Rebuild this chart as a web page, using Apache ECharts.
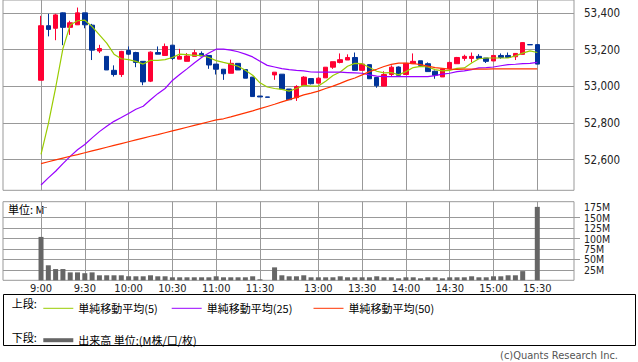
<!DOCTYPE html>
<html><head><meta charset="utf-8">
<script src="https://cdn.jsdelivr.net/npm/echarts@6/dist/echarts.min.js"></script>
<style>html,body{margin:0;padding:0;background:#fff}#c{width:638px;height:362px}</style>
</head><body><div id="c"></div>
<script>
const times = ['9:00','9:05','9:10','9:15','9:20','9:25','9:30','9:35','9:40','9:45',
'9:50','9:55','10:00','10:05','10:10','10:15','10:20','10:25','10:30','10:35',
'10:40','10:45','10:50','10:55','11:00','11:05','11:10','11:15','11:20','11:25',
'11:30','12:25','12:30','12:35','12:40','12:45','12:50','12:55','13:00','13:05',
'13:10','13:15','13:20','13:25','13:30','13:35','13:40','13:45','13:50','13:55',
'14:00','14:05','14:10','14:15','14:20','14:25','14:30','14:35','14:40','14:45',
'14:50','14:55','15:00','15:05','15:10','15:15','15:20','15:25','15:30'];
const opens = [53033,53330,53316,53400,53321,53335,53400,53333,53192,53163,
53087,53064,53195,53184,53136,53028,53184,53168,53224,53148,
53136,53163,53179,53168,53121,53093,53071,53125,53091,53050,
52947,52942,53062,53066,52985,52938,53005,53042,53017,53046,
53104,53130,53143,53157,53087,53118,53048,53001,53064,53105,
53064,53123,53139,53123,53082,53051,53096,53123,53152,53152,
53163,53154,53138,53168,53168,53161,53174,53227,53227];
const closes = [53330,53310,53389,53321,53346,53400,53335,53197,53206,53089,
53064,53190,53175,53130,53024,53186,53175,53217,53152,53163,
53165,53183,53165,53116,53093,53068,53125,53089,53044,52944,
52942,52940,53077,52985,52927,52999,53050,53014,53044,53104,
53134,53145,53157,53087,53121,53041,53003,53064,53104,53060,
53125,53136,53114,53080,53060,53095,53130,53157,53163,53163,
53152,53136,53168,53157,53157,53179,53238,53226,53121];
const lows = [53033,53272,53251,53224,53280,53335,53316,53143,53181,53089,
53053,53051,53170,53104,53006,53023,53175,53168,53143,53148,
53136,53163,53165,53095,53064,53035,53071,53089,53044,52944,
52942,52940,53035,52982,52927,52920,53005,53010,53017,53046,
53095,53125,53143,53087,53087,53041,52992,53001,53053,53055,
53064,53123,53105,53080,53041,53051,53096,53123,53139,53130,
53152,53127,53138,53150,53157,53143,53174,53226,53121];
const highs = [53384,53395,53395,53402,53357,53429,53400,53340,53226,53163,
53114,53193,53217,53188,53136,53190,53217,53233,53224,53204,
53181,53199,53190,53168,53121,53093,53145,53125,53091,53050,
52947,52942,53077,53066,52985,53006,53055,53042,53050,53104,
53134,53179,53174,53184,53121,53118,53048,53082,53114,53108,
53125,53179,53139,53130,53086,53095,53134,53160,53172,53184,
53175,53154,53168,53179,53184,53179,53240,53227,53227];
const volumes = [104,36,27,27,19,19,17,19,12,12,
12,12,9.6,9.6,9.6,12,9.6,9.6,7.2,7.2,
7.2,7.2,7.2,7.2,9.6,7.2,7.2,7.2,7.2,9.6,
2.4,null,31,12,9.6,9.6,12,7.2,7.2,7.2,
7.2,9.6,7.2,7.2,7.2,7.2,9.6,7.2,7.2,4.8,
7.2,7.2,4.8,7.2,7.2,4.8,7.2,7.2,7.2,9.6,
7.2,7.2,9.6,9.6,12,12,22,0.5,176];
const ma5 = [52629,52795,52992,53205,53334,53357,53360,53325,53280,53235,
53175,53150,53145,53136,53121,53141,53141,53145,53157,53175,
53172,53168,53168,53157,53140,53130,53121,53109,53087,53060,
53019,52996,52988,52983,52974,52988,53005,53001,53001,53028,
53059,53078,53109,53125,53123,53102,53082,53073,53075,53062,
53080,53102,53109,53105,53091,53084,53087,53098,53100,53127,
53150,53154,53154,53154,53154,53166,53181,53193,53184];
const ma25 = [52462,52501,52537,52579,52618,52654,52683,52719,52753,52782,
52809,52830,52852,52875,52891,52927,52960,52988,53032,53064,
53095,53127,53157,53181,53202,53202,53197,53188,53175,53160,
53136,53114,53105,53096,53091,53087,53084,53078,53077,53077,
53077,53077,53075,53073,53071,53062,53055,53053,53053,53053,
53053,53053,53053,53053,53058,53066,53071,53080,53084,53091,
53100,53102,53105,53112,53118,53120,53123,53125,53130];
const ma50 = [52579,52589,52599,52609,52619,52628,52638,52648,52658,52668,
52678,52688,52698,52708,52718,52728,52737,52747,52757,52767,
52777,52787,52797,52807,52817,52823,52833,52844,52855,52866,
52878,52890,52902,52915,52927,52940,52953,52963,52974,52988,
53001,53016,53032,53045,53062,53080,53093,53108,53119,53126,
53127,53124,53118,53110,53102,53098,53094,53092,53093,53093,
53093,53094,53095,53095,53095,53095,53095,53095,53095];
const timeTicks = ['9:00','9:30','10:00','10:30','11:00','11:30','13:00','13:30','14:00','14:30','15:00','15:30'];
const priceTicks = [52600,52800,53000,53200,53400];
const volumeTicksOdd = [25,75,125,175];
const volumeTicksEven = [50,100,150];
const volumeGridLines = [25,50,75,100,125,150];

const numFont = "'DejaVu Sans Condensed','DejaVu Sans',sans-serif";
const jpFont = "'Noto Sans CJK JP',sans-serif";
const tickIdx = timeTicks.map(t => times.indexOf(t));
const xMin = -5.21, xMax = 73.03;
const yMin = 52433.4, yMax = 53470.1;
const vMax = 188.4;
const grid = '#999999';

const candleData = times.map((t, i) => [i, opens[i], closes[i], lows[i], highs[i]]);
const pair = arr => arr.map((v, i) => [i, v]);

const chart = echarts.init(document.getElementById('c'), null, {renderer: 'svg', width: 638, height: 362});
const xCommon = {type: 'value', min: xMin, max: xMax, axisLine: {show: false},
  axisTick: {show: false, customValues: tickIdx},
  splitLine: {show: true, lineStyle: {color: grid, width: 1}}};
const legendCommon = {padding: 0, itemWidth: 30, itemHeight: 1, selectedMode: false,
  textStyle: {fontSize: 11, color: '#000', fontFamily: jpFont}};
const volLabelAxis = ticks => ({type: 'value', gridIndex: 1, position: 'right', min: 0, max: vMax, axisLine: {show: false},
  axisTick: {show: true, inside: false, length: 6, customValues: ticks, lineStyle: {color: grid}},
  axisLabel: {customValues: ticks, formatter: v => v + 'M', margin: 10, fontSize: 10.5, lineHeight: 10,
    showMinLabel: true, showMaxLabel: true, color: '#222', fontFamily: numFont},
  splitLine: {show: false}});
chart.setOption({
  animation: false,
  grid: [
    {left: 3, right: 64, top: -2, height: 192.3, show: true, borderColor: grid, borderWidth: 1},
    {left: 3, right: 64, top: 201.7, height: 78.6, show: true, borderColor: grid, borderWidth: 1}
  ],
  xAxis: [
    Object.assign({gridIndex: 0, axisLabel: {show: false}}, xCommon),
    Object.assign({gridIndex: 1, axisLabel: {show: true, customValues: tickIdx, formatter: v => times[Math.round(v)],
      margin: 3, fontSize: 11, color: '#222', fontFamily: numFont}}, xCommon)
  ],
  yAxis: [
    {type: 'value', gridIndex: 0, position: 'right', min: yMin, max: yMax, axisLine: {show: false},
      axisTick: {show: false, customValues: priceTicks},
      axisLabel: {customValues: priceTicks, formatter: v => v.toLocaleString('en-US'), margin: 10, fontSize: 11.5, color: '#222', fontFamily: numFont},
      splitLine: {show: true, lineStyle: {color: grid, width: 1}}},
    volLabelAxis(volumeTicksOdd),
    volLabelAxis(volumeTicksEven),
    {type: 'value', gridIndex: 1, position: 'left', min: 0, max: vMax, axisLine: {show: false},
      axisTick: {show: false, customValues: volumeGridLines}, axisLabel: {show: false},
      splitLine: {show: true, lineStyle: {color: grid, width: 1}}}
  ],
  legend: [
    Object.assign({data: [{name: '単純移動平均(5)', icon: 'rect'}], left: 43.3, top: 302.8}, legendCommon),
    Object.assign({data: [{name: '単純移動平均(25)', icon: 'rect'}], left: 171.7, top: 302.8}, legendCommon),
    Object.assign({data: [{name: '単純移動平均(50)', icon: 'rect'}], left: 313.5, top: 302.8}, legendCommon),
    Object.assign({data: [{name: '出来高 単位:(M株/口/枚)', icon: 'rect'}], left: 43.3, top: 334.7}, legendCommon, {itemHeight: 4})
  ],
  graphic: [
    {type: 'rect', shape: {x: 3.5, y: 294.5, width: 632, height: 51}, style: {fill: 'none', stroke: '#000', lineWidth: 1}, silent: true},
    {type: 'text', x: 11.7, y: 303.3, style: {text: '上段:', fill: '#000', font: "11px 'Noto Sans CJK JP'", verticalAlign: 'middle'}},
    {type: 'text', x: 11.7, y: 336.7, style: {text: '下段:', fill: '#000', font: "11px 'Noto Sans CJK JP'", verticalAlign: 'middle'}},
    {type: 'text', x: 8, y: 209, style: {text: '単位: M', fill: '#000', font: "11px 'Noto Sans CJK JP'", verticalAlign: 'middle'}},
    {type: 'text', x: 618, y: 355.5, style: {text: '(c)Quants Research Inc.', fill: '#555', font: "11px 'DejaVu Sans Condensed','DejaVu Sans'", verticalAlign: 'middle', align: 'right'}}
  ],
  series: [
    {name: 'price', type: 'candlestick', xAxisIndex: 0, yAxisIndex: 0, data: candleData, encode: {x: 0, y: [1, 2, 3, 4]},
      barWidth: 5,
      itemStyle: {color: '#ff0033', color0: '#003399', borderColor: '#ff0033', borderColor0: '#003399', borderWidth: 1}},
    {name: '単純移動平均(5)', type: 'line', xAxisIndex: 0, yAxisIndex: 0, data: pair(ma5), symbol: 'none', color: '#99cc00', lineStyle: {width: 1.2, color: '#99cc00'}},
    {name: '単純移動平均(25)', type: 'line', xAxisIndex: 0, yAxisIndex: 0, data: pair(ma25), symbol: 'none', color: '#9900ff', lineStyle: {width: 1.2, color: '#9900ff'}},
    {name: '単純移動平均(50)', type: 'line', xAxisIndex: 0, yAxisIndex: 0, data: pair(ma50), symbol: 'none', color: '#ff3300', lineStyle: {width: 1.2, color: '#ff3300'}},
    {name: '出来高 単位:(M株/口/枚)', type: 'bar', xAxisIndex: 1, yAxisIndex: 1, data: pair(volumes), barWidth: 5, color: '#666666', itemStyle: {color: '#666666'}}
  ]
});
</script></body></html>
